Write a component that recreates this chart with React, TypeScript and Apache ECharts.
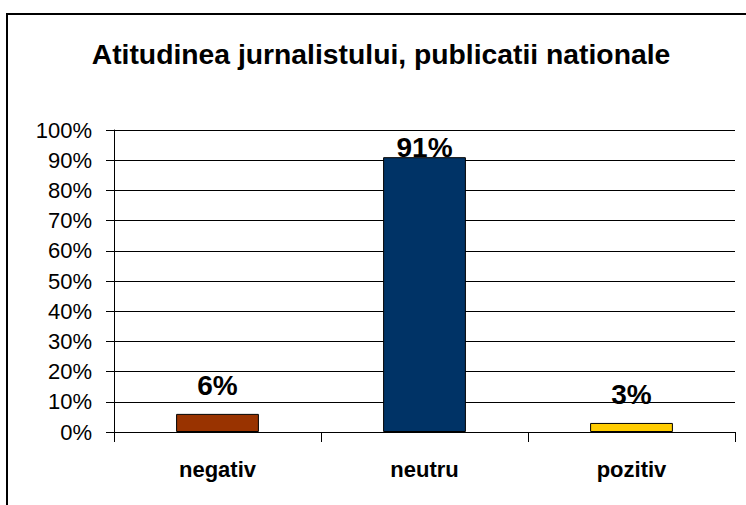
import React, { useEffect, useRef } from "react";
import * as echarts from "echarts";

const categories = ["negativ", "neutru", "pozitiv"];
const values = [0.06, 0.91, 0.03];
const barColors = ["#993300", "#003366", "#FFCC00"];
const labelDistances = [14, -4, 14];
const titleText = "Atitudinea jurnalistului, publicatii nationale";

export default function App() {
  const ref = useRef<HTMLDivElement>(null);
  useEffect(() => {
    if (!ref.current) return;
    const chart = echarts.init(ref.current, null, { renderer: "svg" });
    const font = "Liberation Sans, Arial, sans-serif";
    chart.setOption({
      animation: false,
      backgroundColor: "#ffffff",
      title: {
        text: titleText,
        left: 376,
        top: 35,
        textAlign: "center",
        textStyle: { fontFamily: font, fontSize: 28.3, fontWeight: "bold", color: "#000" },
      },
      graphic: [
        {
          type: "rect",
          shape: { x: 7, y: 14, width: 800, height: 600 },
          style: { fill: "none", stroke: "#000", lineWidth: 2 },
          silent: true,
        },
      ],
      grid: { left: 114, right: 11, top: 130, bottom: 73, containLabel: false },
      xAxis: {
        type: "category",
        data: categories,
        axisLine: { lineStyle: { color: "#000", width: 1 } },
        axisTick: { show: true, length: 10, lineStyle: { color: "#000" } },
        axisLabel: {
          margin: 26,
          fontFamily: font,
          fontSize: 22,
          fontWeight: "bold",
          color: "#000",
        },
      },
      yAxis: {
        type: "value",
        min: 0,
        max: 1,
        interval: 0.1,
        axisLine: { show: true, lineStyle: { color: "#000", width: 1 } },
        axisTick: { show: true, length: 8, lineStyle: { color: "#000" } },
        splitLine: { show: true, lineStyle: { color: "#000", width: 1 } },
        axisLabel: {
          margin: 22,
          fontFamily: font,
          fontSize: 22,
          color: "#000",
          formatter: (v: number) => Math.round(v * 100) + "%",
        },
      },
      series: [
        {
          type: "bar",
          barWidth: "40%",
          data: values.map((v, i) => ({
            value: v,
            itemStyle: { color: barColors[i], borderColor: "#000", borderWidth: 1 },
            label: {
              show: true,
              position: "top",
              distance: labelDistances[i],
              formatter: Math.round(v * 100) + "%",
              fontFamily: font,
              fontSize: 28,
              fontWeight: "bold",
              color: "#000",
            },
          })),
        },
      ],
    });
    return () => chart.dispose();
  }, []);
  return (
    <div
      ref={ref}
      style={{ position: "fixed", left: 0, top: 0, width: 746, height: 505, background: "#fff" }}
    />
  );
}
